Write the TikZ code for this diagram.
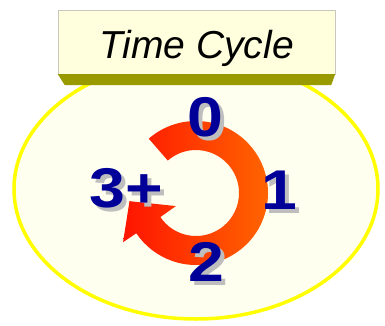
\documentclass[tikz,border=0pt]{standalone}
\usepackage{fontspec}
\setmainfont{Liberation Sans}
\newfontfamily\digitfont[FakeStretch=1.15]{Liberation Sans Bold}
\definecolor{ringfill}{RGB}{255,255,240}
\definecolor{ringline}{RGB}{255,255,0}
\definecolor{boxfill}{RGB}{255,255,221}
\definecolor{boxedge}{RGB}{200,200,190}
\definecolor{bevel}{RGB}{153,153,0}
\definecolor{digitblue}{RGB}{0,0,153}
\definecolor{shadowgrey}{RGB}{190,190,190}
\definecolor{arrowred}{RGB}{255,20,0}
\definecolor{arroworange}{RGB}{255,105,0}
\tikzset{
  titlebox/.style={draw=boxedge, fill=boxfill, minimum width=277pt, minimum height=64pt,
    inner sep=0pt, text height=32pt, text depth=0pt, font=\fontsize{39}{39}\selectfont\itshape},
  digit/.style={text=digitblue, inner sep=0pt, font=\digitfont\fontsize{56}{56}\selectfont},
  digitshadow/.style={digit, text=shadowgrey}
}
\begin{document}
\begin{tikzpicture}[x=1pt, y=1pt]
        \useasboundingbox (0,0) rectangle (385,325);
        \draw[ringline, fill=ringfill, line width=3.5pt] (196,136) ellipse [x radius=182pt, y radius=130pt];
        % title box with its lower edge
        \node[titlebox] (title) at (196.5,283) {Time Cycle};
        \fill[bevel] (title.south west) -- (title.south east) -- ++(-4,-11) -- ([shift={(7,-11)}]title.south west) -- cycle;
        % turning arrow
        \begin{scope}[shift={(196,132)}]
            \shade[left color=arrowred, right color=arroworange] (131:72pt) arc[start angle=131, end angle=-146, radius=72pt]
                -- (-146:88pt) -- (-173:67pt) -- (-147:24pt) -- (-146:43pt)
                arc[start angle=-146, end angle=131, radius=43pt] -- cycle;
        \end{scope}
        % digits
        \node[digitshadow] (zero-shadow) at (209,203.5) {0};
        \node[digit] (zero) at (205,207.5) {0};
        \node[digitshadow] (one-shadow) at (283,131) {1};
        \node[digit] (one) at (279,135) {1};
        \node[digitshadow] (two-shadow) at (210,59.5) {2};
        \node[digit] (two) at (206,63.5) {2};
        \node[digitshadow] (three-shadow) at (130,132.5) {3+};
        \node[digit] (three) at (126,136.5) {3+};
    \end{tikzpicture}
\end{document}
